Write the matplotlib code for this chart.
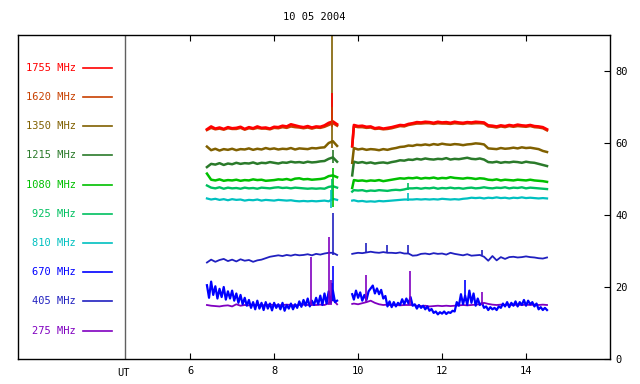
import numpy as np
import matplotlib
matplotlib.use('Agg')
import matplotlib.pyplot as plt

# Horas UT de las muestras: dos tramos con un hueco entre ~9.5 y ~9.9
t1 = np.round(np.arange(6.4, 9.55, 0.1), 2)
t2 = np.concatenate([[9.86], np.round(np.arange(9.9, 14.55, 0.1), 2)])
# 670 MHz es muy ruidosa: se leyo con paso de 0.05 h
t1f = np.round(np.arange(6.4, 9.525, 0.05), 2)
t2f = np.concatenate([[9.86], np.round(np.arange(9.9, 14.525, 0.05), 2)])

titulo = '10 05 2004'
etiquetas = ['1755 MHz', '1620 MHz', '1350 MHz', '1215 MHz', '1080 MHz',
             '925 MHz', '810 MHz', '670 MHz', '405 MHz', '275 MHz']
colores = ['#ff0000', '#c84000', '#806000', '#2a7a2a', '#00c000',
           '#00c060', '#00c0c0', '#0000ff', '#2020c0', '#8000c0']
xticks = [6, 8, 10, 12, 14]
yticks = [0, 20, 40, 60, 80]

# Flujo (tramo a = t1, tramo b = t2)
f1755_a = [63.8, 64.6, 64.0, 64.3, 63.9, 64.4, 64.1, 64.2,
           64.5, 63.9, 64.4, 64.1, 64.6, 64.2, 64.3, 64.0,
           64.5, 64.4, 64.8, 64.6, 65.2, 64.9, 64.6, 64.4,
           64.7, 64.3, 64.6, 64.5, 64.9, 65.6, 66.0, 65.2]
f1755_b = [59.2, 65.0,
           64.7, 64.8, 64.5, 64.6, 64.1, 64.3, 64.0, 64.2, 64.4, 64.7,
           65.0, 64.9, 65.3, 65.5, 65.8, 65.7, 65.9, 65.8, 65.6, 65.9,
           65.7, 65.8, 65.6, 65.9, 65.7, 65.6, 65.8, 65.7, 65.9, 65.8,
           65.7, 64.9, 64.8, 64.6, 64.9, 64.7, 65.0, 64.8, 65.1, 64.9,
           64.8, 65.0, 64.7, 64.6, 64.4, 63.8]

f1620_a = [63.6, 64.2, 63.8, 64.0, 63.7, 64.1, 63.9, 63.9,
           64.2, 63.7, 64.1, 63.9, 64.2, 64.0, 64.0, 63.8,
           64.2, 64.1, 64.4, 64.2, 64.6, 64.4, 64.3, 64.1,
           64.3, 64.0, 64.3, 64.2, 64.5, 65.0, 65.5, 64.8]
f1620_b = [59.0, 64.6,
           64.4, 64.4, 64.2, 64.3, 63.9, 64.0, 63.8, 63.9, 64.1, 64.4,
           64.7, 64.6, 65.0, 65.2, 65.4, 65.4, 65.5, 65.5, 65.3, 65.5,
           65.4, 65.4, 65.3, 65.5, 65.4, 65.3, 65.5, 65.4, 65.5, 65.5,
           65.4, 64.6, 64.5, 64.3, 64.6, 64.4, 64.7, 64.5, 64.7, 64.6,
           64.5, 64.7, 64.4, 64.3, 64.1, 63.5]

f1350_a = [59.0, 58.0, 58.4, 57.9, 58.3, 58.1, 58.4, 58.0,
           58.3, 58.2, 58.5, 58.1, 58.4, 58.2, 58.6, 58.3,
           58.5, 58.2, 58.4, 58.3, 58.6, 58.2, 58.5, 58.4,
           58.3, 58.6, 58.5, 58.7, 58.8, 60.0, 60.5, 59.2]
f1350_b = [54.5, 58.6,
           58.2, 58.4, 58.1, 58.3, 58.2, 58.0, 58.3, 58.1, 58.4, 58.6,
           58.9, 59.0, 59.3, 59.2, 59.5, 59.4, 59.6, 59.4, 59.7, 59.5,
           59.8, 59.6, 59.5, 59.7, 59.6, 59.4, 59.6, 59.7, 59.9, 59.8,
           59.6, 58.5, 58.4, 58.3, 58.6, 58.4, 58.5, 58.7, 58.5, 58.8,
           58.6, 58.7, 58.5, 58.3, 57.8, 57.5]

f1215_a = [53.3, 54.2, 54.0, 54.4, 53.9, 54.3, 54.1, 54.5,
           54.2, 54.4, 54.3, 54.6, 54.2, 54.5, 54.4, 54.7,
           54.5, 54.3, 54.6, 54.5, 54.8, 54.6, 54.7, 54.5,
           54.8, 54.6, 54.7, 54.9, 55.0, 55.6, 56.0, 54.8]
f1215_b = [51.0, 54.8,
           54.5, 54.7, 54.4, 54.6, 54.3, 54.5, 54.6, 54.4, 54.7, 54.9,
           55.2, 55.1, 55.4, 55.3, 55.6, 55.4, 55.7, 55.5, 55.4, 55.6,
           55.5, 55.8, 55.4, 55.6, 55.5, 55.7, 55.9, 55.6, 55.5, 55.7,
           55.4, 54.7, 54.6, 54.8, 54.5, 54.7, 54.6, 54.8, 54.7, 54.5,
           54.8, 54.6, 54.5, 54.2, 53.9, 53.6]

f1080_a = [51.5, 49.8, 49.6, 49.9, 49.5, 49.7, 49.6, 49.8,
           49.5, 49.7, 49.6, 49.9, 49.7, 49.8, 49.5, 49.6,
           49.7, 49.9, 49.8, 50.0, 49.7, 50.1, 50.2, 49.9,
           50.0, 49.8, 49.9, 50.0, 50.2, 50.8, 51.0, 50.5]
f1080_b = [47.5, 49.7,
           49.5, 49.6, 49.4, 49.6, 49.5, 49.7, 49.4, 49.6, 49.8, 50.0,
           50.2, 50.1, 50.3, 50.2, 50.4, 50.1, 50.3, 50.2, 50.4, 50.1,
           50.3, 50.2, 50.5, 50.3, 50.2, 50.1, 50.3, 50.2, 50.0, 50.2,
           50.1, 49.8, 49.7, 49.9, 49.6, 49.8, 49.7, 49.6, 49.8, 49.7,
           49.6, 49.8, 49.6, 49.5, 49.4, 49.2]

f925_a = [48.2, 47.6, 47.4, 47.7, 47.3, 47.6, 47.4, 47.5,
          47.3, 47.6, 47.4, 47.5, 47.3, 47.6, 47.5, 47.4,
          47.6, 47.7, 47.5, 47.6, 47.4, 47.6, 47.5, 47.4,
          47.3, 47.4, 47.3, 47.4, 47.3, 47.8, 48.0, 47.6]
f925_b = [46.5, 46.9,
          46.8, 46.9, 46.6, 46.8, 46.7, 46.9, 46.8, 46.7, 46.9, 47.0,
          46.9, 47.1, 47.4, 47.4, 47.5, 47.3, 47.5, 47.4, 47.6, 47.3,
          47.5, 47.4, 47.6, 47.4, 47.5, 47.3, 47.5, 47.6, 47.4, 47.5,
          47.7, 47.5, 47.4, 47.6, 47.5, 47.7, 47.4, 47.6, 47.5, 47.7,
          47.4, 47.6, 47.5, 47.4, 47.3, 47.2]

f810_a = [44.6, 44.3, 44.5, 44.2, 44.4, 44.1, 44.4, 44.2,
          44.3, 44.0, 44.2, 44.1, 44.3, 44.0, 44.2, 44.1,
          44.0, 44.2, 44.1, 44.0, 44.1, 43.9, 43.8, 43.9,
          43.8, 43.9, 43.8, 43.9, 44.0, 43.8, 44.5, 44.2]
f810_b = [44.0, 44.1,
          43.8, 43.9, 43.7, 43.8, 43.7, 43.9, 43.8, 43.9, 44.0, 44.1,
          44.2, 44.3, 44.3, 44.3, 44.4, 44.3, 44.4, 44.3, 44.4, 44.3,
          44.5, 44.4, 44.3, 44.4, 44.3, 44.5, 44.6, 44.8, 44.7, 44.8,
          44.6, 44.8, 44.7, 44.9, 44.7, 44.8, 44.6, 44.8, 44.7, 44.9,
          44.7, 44.8, 44.7, 44.6, 44.7, 44.6]

# 670 MHz (tramo a = t1f, tramo b = t2f)
f670_a = [20.5, 17.0, 21.5, 17.8, 20.2, 16.8, 19.5, 17.2, 20.0, 16.5,
          18.8, 16.8, 19.0, 16.2, 18.2, 15.6, 17.8, 15.2, 17.0, 14.8,
          16.4, 14.2, 15.8, 13.8, 16.2, 14.0, 15.6, 13.6, 15.8, 14.0,
          15.4, 13.5, 15.6, 14.2, 15.2, 13.8, 15.6, 13.4, 15.0, 14.0,
          15.4, 13.8, 15.2, 14.2, 16.0, 14.5, 16.4, 14.8, 16.8, 14.6,
          16.2, 15.0, 17.0, 15.2, 17.6, 15.0, 18.2, 15.4, 18.8, 15.6,
          19.0, 15.8, 16.2]
f670_b = [18.0,
          16.5, 19.0, 17.0, 18.5, 16.2, 17.8, 16.4, 18.8, 19.6, 20.4,
          18.2, 19.6, 18.0, 19.2, 16.8, 17.5, 14.6, 16.0, 14.4, 15.8,
          14.6, 15.6, 15.0, 16.6, 15.2, 16.8, 15.4, 17.2, 14.8, 15.2,
          14.0, 15.0, 14.2, 14.8, 13.8, 14.6, 13.4, 13.9, 12.8, 13.2,
          12.4, 13.0, 12.6, 13.2, 12.5, 13.0, 12.8, 13.4, 13.2, 15.8,
          14.8, 18.0, 15.2, 17.6, 15.0, 19.0, 15.6, 18.2, 14.8, 16.8,
          15.0, 15.6, 14.2, 14.6, 13.6, 14.4, 13.8, 14.2, 13.6, 14.6,
          14.2, 15.4, 14.6, 15.8, 14.4, 15.6, 14.8, 16.0, 14.6, 15.8,
          15.0, 16.4, 14.8, 16.2, 15.2, 15.8, 14.6, 15.4, 13.8, 14.4,
          13.6, 14.2, 13.6]

f405_a = [26.8, 27.6, 27.0, 27.5, 27.8, 27.2, 27.6, 27.1,
          27.7, 27.3, 27.5, 27.0, 27.4, 27.6, 28.0, 28.4,
          28.6, 28.8, 28.6, 28.9, 28.7, 29.0, 28.8, 28.9,
          29.1, 28.8, 29.2, 29.0, 29.3, 29.5, 29.5, 28.9]
f405_b = [29.2, 29.3,
          29.5, 29.4, 29.6, 29.8, 29.6, 29.5, 29.7, 29.5, 29.5, 29.4,
          29.6, 29.3, 29.3, 28.7, 28.8, 29.2, 29.3, 29.1, 29.4, 29.2,
          29.3, 29.0, 29.5, 29.2, 29.0, 28.8, 29.1, 28.7, 28.8, 28.9,
          28.4, 27.3, 28.6, 27.4, 28.3, 27.8, 28.3, 28.4, 28.2, 28.3,
          28.5, 28.3, 28.2, 28.0, 27.9, 28.2]

f275_a = [15.0, 14.8, 14.7, 14.6, 14.8, 14.9, 14.6, 15.2,
          14.8, 15.0, 14.9, 15.1, 15.0, 14.9, 15.0, 15.1,
          15.0, 14.9, 15.0, 15.1, 15.0, 14.9, 15.0, 15.1,
          15.0, 15.0, 15.0, 15.1, 15.0, 15.5, 16.5, 15.2]
f275_b = [15.3, 15.4,
          15.2, 15.5, 15.8, 16.2, 15.6, 15.2, 15.0, 15.1, 14.9, 15.0,
          14.9, 15.0, 15.0, 15.0, 14.8, 14.7, 14.8, 14.6, 14.7, 14.8,
          14.7, 14.8, 14.7, 14.8, 14.9, 15.0, 14.9, 15.0, 15.1, 15.2,
          15.6, 15.3, 15.1, 15.0, 15.1, 15.0, 15.1, 15.0, 15.1, 15.0,
          15.1, 15.0, 15.1, 15.0, 15.1, 15.0]

# Picos estrechos (una sola muestra): serie, hora, base y cima
pico_serie = ['1350 MHz', '1755 MHz', '1620 MHz', '1215 MHz', '1080 MHz',
              '925 MHz', '810 MHz', '405 MHz', '670 MHz', '670 MHz',
              '275 MHz', '275 MHz', '275 MHz',
              '275 MHz', '275 MHz', '275 MHz',
              '405 MHz', '405 MHz', '405 MHz', '405 MHz',
              '925 MHz', '810 MHz', '670 MHz']
pico_t = [9.37, 9.39, 9.38, 9.40, 9.40,
          9.38, 9.36, 9.41, 9.37, 9.41,
          8.87, 9.31, 9.35,
          10.19, 11.23, 12.95,
          10.20, 10.70, 11.20, 12.95,
          11.20, 11.20, 12.55]
pico_min = [58.5, 65.0, 64.5, 54.5, 42.3,
            44.0, 42.0, 29.0, 16.0, 16.0,
            15.0, 15.0, 15.0,
            15.5, 15.0, 15.0,
            29.5, 29.5, 29.3, 28.8,
            47.0, 44.0, 16.0]
pico_max = [95.0, 73.8, 70.0, 58.0, 53.0,
            50.0, 47.0, 40.6, 21.0, 25.8,
            28.4, 34.0, 22.0,
            23.3, 24.4, 18.5,
            32.1, 31.7, 31.7, 30.2,
            48.8, 46.0, 21.9]

tramos_a = [f1755_a, f1620_a, f1350_a, f1215_a, f1080_a,
            f925_a, f810_a, f670_a, f405_a, f275_a]
tramos_b = [f1755_b, f1620_b, f1350_b, f1215_b, f1080_b,
            f925_b, f810_b, f670_b, f405_b, f275_b]
grosores = [1.9, 1.8, 1.8, 1.8, 1.8, 1.7, 1.6, 1.6, 1.3, 1.3]


def grafica():
    plt.rcParams['font.family'] = 'DejaVu Sans Mono'
    plt.rcParams['font.size'] = 7.5

    fig = plt.figure(figsize=(6.4, 3.84), dpi=100)
    ax = fig.add_axes([18 / 640, 1 - 359 / 384, 592 / 640, 324 / 384])

    # Series, de la frecuencia mas baja a la mas alta (la roja queda encima)
    for i in reversed(range(len(etiquetas))):
        if etiquetas[i] == '670 MHz':
            ta, tb = t1f, t2f
        else:
            ta, tb = t1, t2
        ax.plot(ta, tramos_a[i], color=colores[i], lw=grosores[i])
        ax.plot(tb, tramos_b[i], color=colores[i], lw=grosores[i])

    # Picos como lineas verticales
    for s, t, y0, y1 in zip(pico_serie, pico_t, pico_min, pico_max):
        col = colores[etiquetas.index(s)]
        ax.vlines(t, y0, y1, color=col, lw=1.2)

    # Leyenda a mano, a la izquierda de la linea UT
    for i, (etq, col) in enumerate(zip(etiquetas, colores)):
        yl = 80.9 - 8.11 * i
        ax.text(3.28, yl, etq, color=col, ha='right', va='center')
        ax.plot([3.45, 4.14], [yl, yl], color=col, lw=1.2)

    ax.axvline(4.45, color='#606060', lw=1)
    ax.text(4.42, -2.6, 'UT', ha='center', va='top')

    ax.set_xlim(1.9, 16.0)
    ax.set_ylim(0, 90)
    ax.set_xticks(xticks)
    ax.set_xticklabels([str(v) for v in xticks])
    ax.set_yticks(yticks)
    ax.tick_params(axis='x', direction='in', top=True, bottom=True,
                   length=4, pad=5)
    ax.tick_params(axis='y', direction='in', left=False, right=True,
                   labelleft=False, labelright=True, length=4, pad=4)
    for s in ax.spines.values():
        s.set_linewidth(1)

    fig.text(314 / 640, 1 - 17.5 / 384, titulo, ha='center', va='center')

    fig.savefig('out.png', dpi=100)


if __name__ == '__main__':
    grafica()
